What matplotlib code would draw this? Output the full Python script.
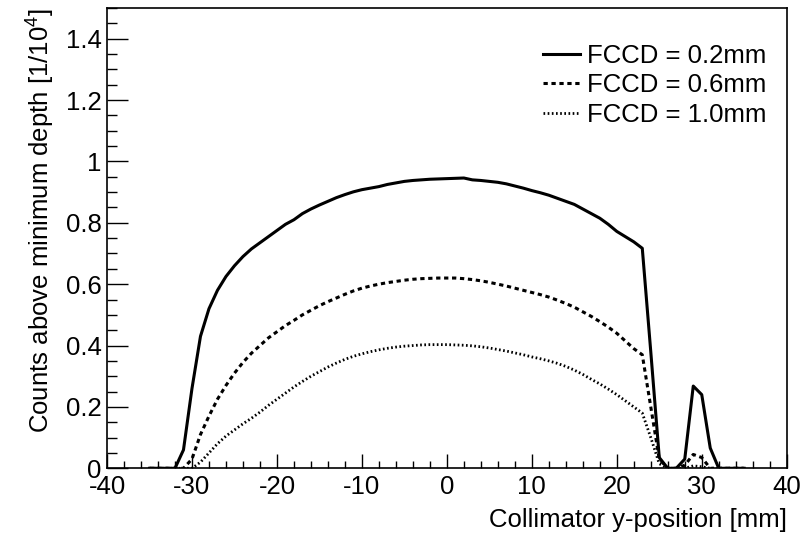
import numpy as np
import matplotlib
matplotlib.use('Agg')
import matplotlib.pyplot as plt
from matplotlib.ticker import MultipleLocator

plt.rcParams['font.family'] = ['Liberation Sans', 'DejaVu Sans']
plt.rcParams['mathtext.fontset'] = 'custom'
plt.rcParams['mathtext.rm'] = 'Liberation Sans'
plt.rcParams['mathtext.it'] = 'Liberation Sans'
plt.rcParams['axes.unicode_minus'] = False

# collimator y-position [mm], 1 mm steps
ypos = np.arange(-35, 36)

# counts above minimum depth [1/10^4]
fccd_02 = [0, 0, 0, 0, 0.06, 0.26, 0.43, 0.52, 0.58, 0.625, 0.66, 0.69,
           0.715, 0.735, 0.755, 0.775, 0.795, 0.81, 0.83, 0.845, 0.858, 0.87,
           0.882, 0.892, 0.901, 0.908, 0.913, 0.918, 0.925, 0.93, 0.935, 0.938,
           0.94, 0.942, 0.943, 0.944, 0.945, 0.946, 0.94, 0.938, 0.935, 0.932,
           0.927, 0.92, 0.913, 0.905, 0.898, 0.89, 0.88, 0.87, 0.86, 0.845,
           0.83, 0.815, 0.795, 0.772, 0.755, 0.738, 0.717, 0.38, 0.035, 0, 0,
           0.03, 0.268, 0.24, 0.066, 0, 0, 0, 0]
fccd_06 = [0, 0, 0, 0, 0, 0.03, 0.11, 0.17, 0.225, 0.27, 0.31, 0.345,
           0.375, 0.40, 0.425, 0.445, 0.465, 0.482, 0.50, 0.515, 0.53, 0.543,
           0.555, 0.567, 0.578, 0.587, 0.594, 0.60, 0.605, 0.609, 0.613, 0.616,
           0.618, 0.619, 0.62, 0.62, 0.62, 0.618, 0.615, 0.611, 0.606, 0.60,
           0.594, 0.587, 0.58, 0.573, 0.566, 0.558, 0.548, 0.537, 0.525, 0.51,
           0.495, 0.478, 0.46, 0.44, 0.415, 0.39, 0.37, 0.2, 0.03, 0, 0,
           0.01, 0.045, 0.035, 0, 0, 0, 0, 0]
fccd_10 = [0, 0, 0, 0, 0, 0, 0.02, 0.05, 0.08, 0.105, 0.125, 0.145,
           0.163, 0.183, 0.205, 0.225, 0.245, 0.265, 0.283, 0.30, 0.315, 0.33,
           0.343, 0.355, 0.365, 0.373, 0.38, 0.386, 0.391, 0.395, 0.398, 0.40,
           0.402, 0.403, 0.403, 0.403, 0.402, 0.401, 0.399, 0.396, 0.392, 0.387,
           0.382, 0.376, 0.37, 0.363, 0.357, 0.35, 0.342, 0.332, 0.32, 0.306,
           0.29, 0.275, 0.258, 0.24, 0.22, 0.20, 0.18, 0.10, 0.015, 0, 0,
           0, 0.008, 0.005, 0, 0, 0, 0, 0]

labels = ['FCCD = 0.2mm', 'FCCD = 0.6mm', 'FCCD = 1.0mm']

fs = 18.5
fig = plt.figure(figsize=(8.04, 5.42), dpi=100)
ax = fig.add_axes([0.1331, 0.1360, 0.8454, 0.8492])

ax.plot(ypos, fccd_02, color='black', lw=2.2, label=labels[0])
ax.plot(ypos, fccd_06, color='black', lw=2.2, dashes=(1.4, 1.2), label=labels[1])
ax.plot(ypos, fccd_10, color='black', lw=2.0, dashes=(0.6, 0.9), label=labels[2])

ax.set_xlim(-40, 40)
ax.set_ylim(0, 1.5)
ax.xaxis.set_major_locator(MultipleLocator(10))
ax.xaxis.set_minor_locator(MultipleLocator(2))
ax.yaxis.set_minor_locator(MultipleLocator(0.05))
ax.set_yticks(np.arange(0, 1.41, 0.2))
ax.set_yticklabels(['0', '0.2', '0.4', '0.6', '0.8', '1', '1.2', '1.4'])
ax.tick_params(which='both', direction='in', top=False, right=False,
               labelsize=fs, width=1)
ax.tick_params(axis='x', which='major', length=10, pad=5)
ax.tick_params(axis='x', which='minor', length=5)
ax.tick_params(axis='y', which='major', length=15, pad=4)
ax.tick_params(axis='y', which='minor', length=7.5)
for s in ax.spines.values():
    s.set_linewidth(1.2)

ax.set_xlabel('Collimator y-position [mm]', fontsize=fs, loc='right', labelpad=6)
ax.set_ylabel('Counts above minimum depth [1/10$^{4}$]', fontsize=fs, loc='top', labelpad=6)

ax.legend(loc='upper right', bbox_to_anchor=(0.985, 0.945), frameon=False,
          fontsize=fs, handlelength=1.45, handletextpad=0.25, labelspacing=0.22,
          borderaxespad=0)

fig.savefig('out.png', dpi=100)
